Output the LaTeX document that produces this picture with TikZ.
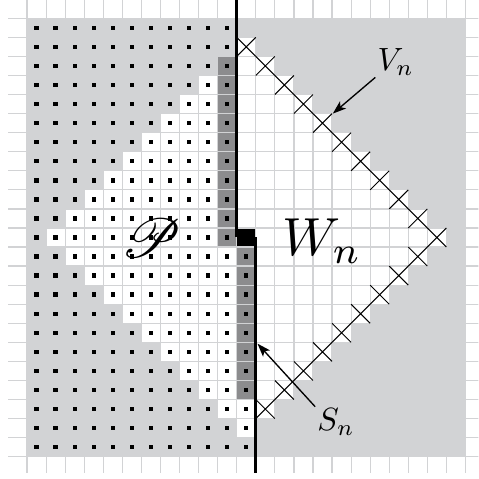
\documentclass[tikz,border=0pt]{standalone}
\usepackage{amsmath, amssymb, mathrsfs}
\usepackage{tikz}
\usetikzlibrary{calc, positioning, arrows.meta}

\definecolor{lgray}{RGB}{210,211,213}
\definecolor{dgray}{RGB}{140,140,142}

\begin{document}
\begin{tikzpicture}[>={Stealth[length=10pt,width=7pt,inset=2.5pt]}, x=0.5cm, y=0.5cm,
    gridline/.style={lgray, line width=0.9pt},
    cross/.style={black, line width=0.7pt},
    wall/.style={black, line width=2pt},
    lbl/.style={scale=2.4, inner sep=0.5pt}]
  \useasboundingbox (-1.42,-1.17) rectangle (23.68,23.96);
  \clip (-1.42,-1.17) rectangle (23.68,23.96);
  % background square
  \fill[lgray] (0,0) rectangle (23,23);
  % diamond of white cells around the centre cell (11,11)
  \foreach \c in {0,...,22} {
    \foreach \r in {0,...,22} {
      \pgfmathtruncatemacro\dist{abs(\c-11)+abs(\r-11)}
      \ifnum\dist<11 \fill[white] (\c,{22-\r}) rectangle ++(1,1); \fi
    }
  }
  % boundary cells S_n (dark) and the centre cell
  \foreach \r in {2,...,11} \fill[dgray] (10,{22-\r}) rectangle ++(1,1);
  \foreach \r in {12,...,19} \fill[dgray] (11,{22-\r}) rectangle ++(1,1);
  \fill[black] (11,11) rectangle (12,12);
  % grid
  \foreach \x in {0,...,23} \draw[gridline] (\x,-0.85) -- (\x,24.5);
  \foreach \y in {0,...,23} \draw[gridline] (-1,\y) -- (24.5,\y);
  % dots in the occupied half
  \foreach \c in {0,...,11} {
    \foreach \r in {0,...,22} {
      \pgfmathtruncatemacro\keep{(\c<11) || (\r>11)}
      \ifnum\keep=1
        \fill[black] ({\c+0.385},{22.385-\r}) rectangle ++(0.23,0.23);
      \fi
    }
  }
  % crosses on the outer boundary V_n
  \foreach \k in {0,...,10} {
    \draw[cross] ({11+\k},{22-\k}) -- ++(1,-1) ++(-1,0) -- ++(1,1);
  }
  \foreach \k in {1,...,9} {
    \draw[cross] ({21-\k},{11-\k}) -- ++(1,1) ++(-1,0) -- ++(1,-1);
  }
  % separating line
  \draw[wall] (11,24.5) -- (11,11.5);
  \draw[wall] (12,11.5) -- (12,-0.85);
  % labels
  \node[scale=4.1] (P) at (6.55,11.44) {$\mathscr{P}$};
  \node[scale=4] (Wn) at (15.47,11.33) {$W_n$};
  \node[lbl] (Vn) at (19.34,20.72) {$V_n$};
  \node[lbl] (Sn) at (16.21,1.8) {$S_n$};
  \coordinate (Vtip) at (16.04,18);
  \coordinate (Stip) at (12.09,5.93);
  \draw[->, line width=1pt] (Vn.south west) -- (Vtip);
  \draw[->, line width=1pt] (Sn.north west) -- (Stip);
\end{tikzpicture}
\end{document}
